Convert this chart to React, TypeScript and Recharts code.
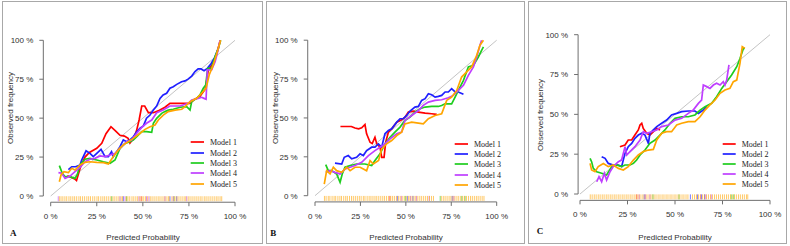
import React from 'react';
import { ComposedChart, Line, Scatter, XAxis, YAxis, ReferenceLine } from 'recharts';

// Calibration curves: [predicted %, observed %]
const MODEL_NAMES = ['Model 1', 'Model 2', 'Model 3', 'Model 4', 'Model 5'];
const MODEL_COLORS = ['#FF0000', '#1F1FFF', '#1ECD1E', '#BF3EFF', '#FFA500'];
const PCT_TICKS = [0, 25, 50, 75, 100];

// Panel A
const a1: [number, number][] = [[9,13],[11,12],[13,11],[14,10],[16,18],[18.6,25],[21,28],[25,30.6],[27.7,33.8],[30,40],[32.7,44.5],[35,42],[37.6,39],[40,38.5],[42,37],[43,34],[45,37],[46.6,42],[48,49],[49.4,57.8],[51,57.8],[53,53.5],[55.7,53.5],[59,55],[62,57],[64.7,59.5],[70,59.5],[75.6,59.5],[78,62],[81,64],[84,69],[85.5,81],[88,85],[90,91],[92,100]];
const a2: [number, number][] = [[9.6,17],[11.4,18.8],[13.5,18.8],[15.9,19.9],[16.8,23],[19.2,29],[21.3,27.4],[23.1,25.3],[25,27.4],[27.3,30],[29.5,25.3],[31.3,25.3],[33,28.5],[34,25.3],[35.8,28.5],[37.6,31.7],[39.4,36],[41.2,34.9],[43,36],[44.8,38],[46.7,41.3],[48.5,43.5],[50.3,45],[52,50],[53.9,52],[55.7,55.2],[57.5,57.8],[59.3,62.7],[61,64.9],[62.9,66],[64.7,69.2],[66.5,70.2],[68.4,71.7],[71,73.4],[72.9,73.9],[74.7,75.2],[76.5,77],[78.3,79.9],[80,81.6],[81.6,81.6],[83.2,80.5],[85,82],[87,85],[89,89],[91,95]];
const a3: [number, number][] = [[4.7,19.5],[6.3,14.6],[7.8,12.4],[10.5,12.4],[13.2,11.3],[14.5,14],[15.9,19.9],[18.6,23.6],[21.3,24.2],[25,23.1],[28.6,22],[32.2,21],[34.9,23.1],[37.6,30.6],[40.3,33.8],[43,34.9],[44.8,36],[46.7,38.1],[49.4,41.3],[52,41.3],[54.8,40.9],[55.7,46.7],[57.5,49.9],[60.2,53.1],[62,54.2],[63.8,55.2],[66.5,55.7],[70.2,57],[73.8,57.4],[75.6,55.2],[76.5,60.6],[79.2,62.7],[81,64.9],[82.8,69.2],[84.1,71.3],[85.2,82],[87.3,82],[89.2,89.5],[91,94.9],[92.2,100]];
const a4: [number, number][] = [[4.2,15],[6,14.6],[7.8,11.3],[10.5,12.8],[13.2,15.6],[15.9,18.4],[18.6,22],[21.3,23.6],[24,24.2],[26.8,25.7],[29.5,25.3],[32.2,26.3],[34.9,27.4],[37.6,30.6],[41.2,34.9],[43.9,36],[46.7,40.3],[49.4,44.1],[52,46.7],[54.8,48.8],[57.5,53.5],[61,55.2],[64.7,57.8],[70.2,57.8],[74.7,59.5],[76.5,61.7],[80,62.7],[81.9,63.4],[83.2,62.7],[84.3,62.1],[85,81],[87.3,81],[89.2,86.3],[90.4,91.6],[91.9,100]];
const a5: [number, number][] = [[4.7,9.2],[5.6,13.5],[7.2,15.6],[9.6,15],[11.4,17.8],[13.2,16.7],[15.9,19.9],[18.6,21.6],[21.3,22],[25,21.6],[28.6,21.4],[31.3,20.6],[34,25.3],[36.7,29.6],[39.4,32.8],[42.1,34.9],[44.8,37],[48.5,40.3],[51.2,42.8],[53.9,44.5],[56.6,45.6],[58.4,48.8],[61.1,52],[63.8,54.2],[67.5,55.2],[71.1,55.7],[72.9,57.4],[75.6,60.6],[79.2,62.7],[81.9,66],[84.3,69.2],[86,77.7],[88.2,84.2],[90.1,91.6],[92.2,100]];

// Panel B
const b1: [number, number][] = [[14,44.5],[17,44.5],[20,44.5],[22,43.5],[24,43],[25.7,43.7],[27.5,45.8],[28.4,39.8],[30.3,34.4],[31.5,33.5],[33,37.6],[34,33.3],[35.8,31.2],[36.7,24.7],[38,24.7],[38.9,34.4],[40.4,40.9],[42.2,43],[45,47.3],[47.7,48.8],[49.5,50.5],[51.4,53.8],[54.1,54.4],[56.9,53.8],[60.6,53.1],[64.2,52.7],[67,52.3]];
const b2: [number, number][] = [[11,20.9],[14.7,20.4],[16.1,24.7],[18.3,25.8],[20.2,23.7],[22.9,24.7],[24.8,26.9],[26.6,25.8],[28.4,29],[31.2,31.2],[33,31.2],[34.9,33.3],[36.7,31.2],[38.5,39.8],[40.4,41.9],[42.2,43],[45,47.3],[46.8,49.5],[48.6,49.5],[50.5,51.6],[52.3,54.4],[55,57],[56.9,57.4],[58.7,61.3],[60.6,62.4],[62.4,65.6],[64.2,64.9],[66.1,63.4],[67.9,63.9],[69.7,64.5],[71.6,66.7],[73.4,66.7],[75.2,68.8],[77.1,66.7],[78.9,66.7],[81.7,65.2]];
const b3: [number, number][] = [[5.9,20],[7.3,16.1],[9.2,16.1],[11.9,14],[13.8,8.6],[15,14],[16.5,18.3],[19.3,19.4],[22.9,20.4],[27.5,20.4],[31.2,19.4],[33,22.6],[35.8,26.9],[38.5,33.3],[41.3,37.6],[44,40.9],[46.8,44.1],[49.5,48.4],[52.3,50.5],[55,53.8],[57.8,55.9],[60.6,57],[64.2,57.4],[67.9,57.4],[69.7,58],[71.6,59.1],[75.2,59.1],[77.1,63.4],[78.9,67.7],[81.7,74.2],[84.4,82.8],[87.2,83.9],[89.9,89.2],[91.7,93.5],[92.7,95.7]];
const b4: [number, number][] = [[5.9,15],[8.3,16.1],[11,15],[13.8,14],[16.5,17.2],[19.3,18.3],[22,19.4],[25.7,21.5],[29.4,25.8],[33,29],[35.8,31.2],[38.5,33.3],[41.3,36.6],[45,39.8],[47.7,40.9],[49.5,48.4],[53.2,51.6],[56.9,54.8],[59.6,58.1],[62.4,60.2],[66.1,61.3],[69.7,61.7],[73.4,63],[76.1,64.5],[78.9,67.7],[81.7,71],[84.4,77.4],[87.2,82.8],[89,89.2],[90.8,96.8],[91.7,100]];
const b5: [number, number][] = [[5.1,7.5],[6.4,16.1],[8.3,14],[10.1,18.3],[11.9,16.1],[14.7,15],[17.4,18.3],[19.3,16.1],[22,18.3],[24.8,18.3],[26.6,17.2],[28.4,16.1],[30.3,22.6],[32.1,20.4],[35,22.6],[36.7,30.1],[39.4,33.3],[42.2,35.5],[45,38.7],[47.7,40.9],[49.5,46.2],[53.2,47.3],[56.9,46.7],[59.6,46.2],[62.4,49.5],[66.1,51.6],[69.7,52.7],[72.5,61.3],[75.2,63.4],[78,67.7],[80.7,76.3],[83.5,79.6],[86.2,82.8],[89,90.3],[90.8,96.8],[92.7,100]];

// Panel C
const c1: [number, number][] = [[21,29.7],[23.7,30.8],[25.4,33.9],[27.2,33.9],[28.9,37],[30.7,40.2],[31.6,43.3],[32.5,44.4],[33.3,41.2],[35.1,38.1],[36.8,37],[38.6,39.1],[40.4,41.2],[42.1,40.2]];
const c2: [number, number][] = [[11.4,23.4],[13.2,22.4],[14.9,19.2],[17.5,18.2],[20.2,18.2],[21.9,17.2],[23.7,25.5],[25.4,29.7],[27.2,31.8],[28.9,34.9],[30.7,37],[32.5,38.1],[34.2,37],[36,31.8],[36.8,38.1],[38.6,40.2],[40.4,42.3],[43,44.4],[45.6,46.4],[48.2,49.6],[50.9,50.6],[53.5,51.7],[57,52.1],[60.5,52.1],[62.3,50.6],[64.9,52.7],[66.7,54.8]];
const c3: [number, number][] = [[5.3,22.4],[6.1,20.3],[7,16.1],[8.8,14],[11.4,13],[14,11.9],[16.7,17.2],[19.3,18.2],[21.9,17.2],[23.7,18.2],[26.3,18.2],[28.1,19.2],[29.8,21.3],[31.6,24.5],[34.2,27.6],[36.8,31.8],[39.5,33.9],[42.1,37],[44.7,40.2],[47.4,44.4],[50,47.5],[53.5,48.5],[57,48.5],[60.5,49.6],[63.2,52.7],[65.8,54.8],[69.3,56.9],[71.9,61.1],[74.6,66.3],[77.2,70.5],[79.8,74.7],[82.5,79.9],[84.2,85.1],[86,91.4],[86.8,91.4]];
const c4: [number, number][] = [[8.8,7.7],[10,10.9],[11.4,7.7],[12.8,13],[14,8.8],[15.8,14],[17.5,17.2],[20.2,20.3],[21.9,21.3],[23.7,29.7],[24.6,24.5],[26.3,26.6],[28.9,29.7],[31.6,33.9],[33.3,39.1],[35.1,38.1],[37.7,39.1],[40.4,40.2],[43,42.3],[46.5,43.3],[50,46.4],[53.5,47.5],[57,50.6],[59.6,52.7],[62.3,56.9],[64,59],[64.9,68.4],[66.7,67.4],[68.4,66.3],[70.2,68.4],[71.9,69.5],[73.7,68.4],[75.4,70.5],[76.3,68.4],[77.2,71.5],[78.4,81]];
const c5: [number, number][] = [[5.3,19.2],[6.1,15.1],[7.9,14],[9.6,17.2],[12.3,19.2],[14.9,17.2],[17.5,18.2],[20.2,16.1],[22.8,15.1],[25.4,17.2],[28.1,21.3],[30.7,24.5],[33.3,26.6],[36,27.6],[38.6,28],[40.4,33.9],[43,38.1],[45.6,39.1],[48.2,39.1],[50.9,43.3],[53.5,44.4],[57,45.4],[60.5,45.4],[63.2,48.5],[65.8,52.7],[68.4,55.9],[71.1,59],[73.7,63.2],[76.3,65.3],[78.9,66.3],[80.7,70.5],[82.5,71.5],[84.2,82],[85.4,92.5],[86.8,91.4]];

// Rug of predicted probabilities (%) per model, drawn Model 1 first so Model 5 sits on top
const rugA1 = [49.1];
const rugA2 = [39.4, 64.7, 68.4];
const rugA3 = [33.1, 41.2, 66.9];
const rugA4 = [4.1, 37.6, 40.3, 47.9, 52.0, 53.3, 62.0, 66.5, 73.8];
const rugA5 = [4.7,5.6,6.6,7.7,8.7,9.9,10.9,12.0,13.0,14.1,15.3,16.2,17.3,18.4,19.6,20.6,21.6,22.8,23.9,25.1,26.0,27.2,28.3,29.3,30.4,31.5,32.6,33.8,34.8,35.9,37.0,38.2,39.0,40.9,41.9,42.9,44.1,45.1,46.2,47.2,48.4,49.6,50.5,51.5,52.6,54.0,55.0,56.1,57.2,58.3,59.3,60.4,61.5,62.6,63.7,64.2,65.8,67.0,68.0,69.1,70.2,71.3,72.4,73.3,74.6,75.6,76.7,77.8,78.9,80.0,81.1,82.1,83.3,84.3,85.4,86.5,87.6,88.7,89.8,90.8,91.9,92.8];
const rugB1 = [41.2];
const rugB2 = [45.3, 50.8, 53.9, 75.5];
const rugB3 = [49.7, 68.9, 80.8, 82.6];
const rugB4 = [47.5, 52.5, 55.8, 62.8, 76.4];
const rugB5 = [5.2,6.1,7.3,8.2,9.4,10.5,11.4,12.6,13.7,14.6,15.8,16.9,17.8,19.0,20.1,21.1,22.2,23.3,24.4,25.4,26.6,27.5,28.7,29.8,30.8,31.9,33.0,34.0,35.1,36.2,37.3,38.3,39.4,40.5,41.7,42.7,43.7,44.8,45.9,46.9,48.0,49.1,50.2,51.4,52.3,53.4,54.5,55.5,56.6,57.7,58.7,59.8,60.9,61.9,63.0,64.1,65.2,69.5,70.6,71.6,72.7,73.8,74.8,75.9,77.0,78.1,79.1,80.2,81.3,82.3,83.4,84.5,85.6,86.6,87.7,88.8,89.8,90.9,92.0,93.0];
const rugC1 = [29.9];
const rugC2 = [33.8, 58.1, 61.8, 63.9, 65.6];
const rugC3 = [38.4, 52.1, 79.6, 80.9];
const rugC4 = [31.2, 34.5, 36.8, 63.6, 66.2, 69.1];
const rugC5 = [5.4,6.4,7.5,8.5,9.6,10.6,11.7,12.7,13.8,14.8,15.9,16.9,18.0,19.0,20.1,21.1,22.2,23.2,24.3,25.3,26.4,27.4,28.5,29.5,30.6,31.6,32.7,33.7,34.8,35.8,36.9,37.9,39.0,40.0,41.1,42.1,43.2,44.2,45.3,46.3,47.4,48.4,49.5,50.5,51.6,52.6,53.7,54.7,55.8,56.8,59.2,60.3,61.3,62.4,63.4,64.5,65.5,66.6,67.6,68.7,69.7,70.8,71.8,72.9,73.9,75.0,76.0,77.1,78.1,79.2,80.2,81.3,82.3,83.4,84.4,85.5,86.5,87.6,88.3];

const SANS = '"Liberation Sans", Arial, sans-serif';
const SERIF = '"Liberation Serif", "Times New Roman", serif';
const AXIS_GREY = '#6f6f6f';
const TEXT = '#303030';

type Geo = { x0: number; xs: number; y0: number; ys: number; xLo: number };
type PanelCfg = {
  off: number; w: number; geo: Geo; series: [number, number][][]; rugs: number[][]; letter: string;
  frame: [number, number, number, number];
  legend: { lineX: number; textX: number; top: number; step: number };
  yTitle: [number, number]; xTitle: [number, number]; letterPos: [number, number];
};

const toPts = (arr: [number, number][]) => arr.map(([x, y]) => ({ x, y }));
const pctFmt = (v: number) => `${v} %`;
const Y_AXIS_W = 30;
const X_AXIS_H = 20;

function rugShape(color: string) {
  return (props: any) => {
    const { cx, cy } = props;
    return <line x1={cx} x2={cx} y1={cy - 1} y2={cy - 6} stroke={color} strokeWidth={0.8} strokeOpacity={0.75} />;
  };
}

const XTick = (props: any) => (
  <text x={props.x} y={props.y} dy="0.71em" textAnchor="middle" fontSize={8} fill={TEXT} fontFamily={SANS}>
    {pctFmt(props.payload.value)}
  </text>
);
const YTick = (props: any) => (
  <text x={props.x} y={props.y} dy="0.355em" textAnchor="end" fontSize={8} fill={TEXT} fontFamily={SANS}>
    {pctFmt(props.payload.value)}
  </text>
);

function Panel({ cfg }: { cfg: PanelCfg }) {
  const { geo, off, w } = cfg;
  const pl = geo.x0 + (geo.xLo / 100) * geo.xs;
  const pr = geo.x0 + 1.04 * geo.xs;
  const pt = geo.y0 - 1.04 * geo.ys;
  const pb = geo.y0 + 0.04 * geo.ys;
  const margin = {
    left: pl - off - Y_AXIS_W,
    right: off + w - pr,
    top: pt,
    bottom: 246 - pb - X_AXIS_H,
  };
  return (
    <>
      <div style={{ position: 'absolute', left: off, top: 0 }}>
        <ComposedChart width={w} height={246} margin={margin}>
          <XAxis type="number" dataKey="x" domain={[geo.xLo, 104]} allowDataOverflow ticks={PCT_TICKS}
            interval={0} axisLine={false} tickSize={4} tickMargin={7}
            height={X_AXIS_H} stroke={AXIS_GREY} tick={<XTick />} />
          <YAxis type="number" dataKey="y" domain={[-4, 104]} allowDataOverflow ticks={PCT_TICKS}
            interval={0} axisLine={false} tickSize={4} tickMargin={6}
            width={Y_AXIS_W} stroke={AXIS_GREY} tick={<YTick />} />
          <ReferenceLine segment={[{ x: 0, y: -4 }, { x: 100, y: -4 }]} stroke={AXIS_GREY} ifOverflow="visible" />
          <ReferenceLine segment={[{ x: geo.xLo, y: 0 }, { x: geo.xLo, y: 100 }]} stroke={AXIS_GREY} ifOverflow="visible" />
          <ReferenceLine segment={[{ x: 0, y: 0 }, { x: 100, y: 100 }]} stroke="#c4c4c4" strokeWidth={1} />
          {cfg.rugs.map((r, i) => (
            <Scatter key={`r${i}`} data={r.map((x) => ({ x, y: -4 }))} shape={rugShape(MODEL_COLORS[i])}
              isAnimationActive={false} />
          ))}
          {cfg.series.map((s, i) => (
            <Line key={`l${i}`} data={toPts(s)} dataKey="y" type="linear" stroke={MODEL_COLORS[i]}
              strokeWidth={1.7} dot={false} isAnimationActive={false} />
          ))}
        </ComposedChart>
      </div>
      <div style={{ position: 'absolute', left: cfg.frame[0], top: cfg.frame[1],
        width: cfg.frame[2] - cfg.frame[0], height: cfg.frame[3] - cfg.frame[1],
        border: '1px solid #a8a8a8', boxSizing: 'border-box', pointerEvents: 'none' }} />
      <div style={{ position: 'absolute', left: cfg.xTitle[0], top: cfg.xTitle[1], transform: 'translate(-50%,-50%)',
        fontFamily: SANS, fontSize: 8, color: TEXT, whiteSpace: 'nowrap' }}>Predicted Probability</div>
      <div style={{ position: 'absolute', left: cfg.yTitle[0], top: cfg.yTitle[1],
        transform: 'translate(-50%,-50%) rotate(-90deg)', fontFamily: SANS, fontSize: 8, color: TEXT,
        whiteSpace: 'nowrap' }}>Observed frequency</div>
      <div style={{ position: 'absolute', left: cfg.letterPos[0], top: cfg.letterPos[1], transform: 'translate(-50%,-50%)',
        fontFamily: SERIF, fontWeight: 'bold', fontSize: 9, color: '#111' }}>{cfg.letter}</div>
      <svg style={{ position: 'absolute', left: 0, top: 0, overflow: 'visible', pointerEvents: 'none' }} width={1} height={1}>
        {MODEL_NAMES.map((name, i) => {
          const y = Math.round(cfg.legend.top + i * cfg.legend.step);
          return (
            <g key={name}>
              <line x1={cfg.legend.lineX} x2={cfg.legend.textX - 6} y1={y} y2={y} stroke={MODEL_COLORS[i]} strokeWidth={1.7} />
              <text x={cfg.legend.textX} y={y} dy="0.33em" fontFamily={SERIF} fontSize={8} fill="#222">{name}</text>
            </g>
          );
        })}
      </svg>
    </>
  );
}

const PANELS: PanelCfg[] = [
  {
    off: 0, w: 265, geo: { x0: 50.7, xs: 184.3, y0: 196, ys: 155.7, xLo: -4 },
    series: [a1, a2, a3, a4, a5], rugs: [rugA1, rugA2, rugA3, rugA4, rugA5], letter: 'A',
    frame: [2, 1, 263, 244], legend: { lineX: 190.7, textX: 210, top: 142.3, step: 10.3 },
    yTitle: [9.5, 108], xTitle: [143, 237], letterPos: [13.3, 233],
  },
  {
    off: 265, w: 260, geo: { x0: 315, xs: 181.7, y0: 195.7, ys: 155.5, xLo: -4 },
    series: [b1, b2, b3, b4, b5], rugs: [rugB1, rugB2, rugB3, rugB4, rugB5], letter: 'B',
    frame: [266, 1, 525, 244], legend: { lineX: 454.7, textX: 474, top: 143.7, step: 10.3 },
    yTitle: [274.7, 108], xTitle: [406, 237], letterPos: [273.3, 233],
  },
  {
    off: 525, w: 265, geo: { x0: 580, xs: 190, y0: 194, ys: 159.3, xLo: -1 },
    series: [c1, c2, c3, c4, c5], rugs: [rugC1, rugC2, rugC3, rugC4, rugC5], letter: 'C',
    frame: [528, 1, 787, 244], legend: { lineX: 722.7, textX: 741.7, top: 144, step: 10.1 },
    yTitle: [540, 115], xTitle: [675, 236.7], letterPos: [540, 231],
  },
];

export default function App() {
  return (
    <div style={{ position: 'absolute', left: 0, top: 0, width: 790, height: 246, background: '#fff', overflow: 'hidden' }}>
      {PANELS.map((p) => <Panel key={p.letter} cfg={p} />)}
    </div>
  );
}
